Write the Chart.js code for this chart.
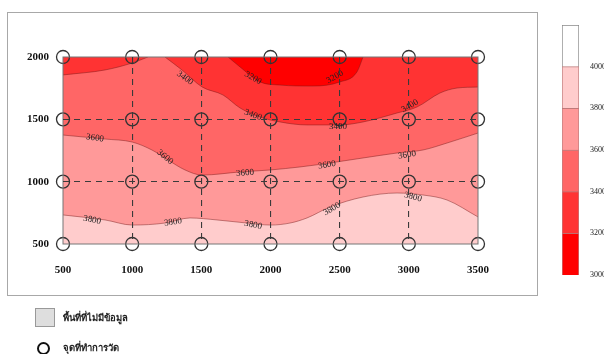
<!DOCTYPE html>
<html>
<head>
<meta charset="utf-8">
<script src="https://cdn.jsdelivr.net/npm/chart.js@4.4.1/dist/chart.umd.min.js"></script>
<style>
  body { margin:0; width:604px; height:354px; background:#fff; position:relative; overflow:hidden; font-family:"Liberation Serif", serif; }
  #frame { position:absolute; left:7px; top:12px; width:529px; height:282px; border:1.5px solid #a8a8a8; }
  #main { position:absolute; left:0; top:0; }
  #bar { position:absolute; left:540px; top:0; }
  .leg { position:absolute; left:63px; font-size:9.5px; font-weight:bold; color:#222; font-family:"Noto Sans", "Liberation Serif", serif; }
  #box { position:absolute; left:35px; top:308px; width:18px; height:17px; background:#dedede; border:1px solid #999; }
  #ring { position:absolute; left:37px; top:342px; width:9px; height:9px; border:2px solid #111; border-radius:50%; }
</style>
</head>
<body>
<div id="frame"></div>
<canvas id="main" width="604" height="354"></canvas>
<canvas id="bar" width="64" height="354"></canvas>
<div id="box"></div>
<div class="leg" style="top:310px">พื้นที่ที่ไม่มีข้อมูล</div>
<div id="ring"></div>
<div class="leg" style="top:340px">จุดที่ทำการวัด</div>
<script>
// measurement grid
var xTicks = [500, 1000, 1500, 2000, 2500, 3000, 3500];
var yTicks = [500, 1000, 1500, 2000];

// contour lines (x, y)
var line3800 = [[500,733],[804,693],[1000,652],[1237,668],[1418,709],[1613,693],[1830,668],[2000,652],[2141,668],[2264,709],[2430,797],[2669,877],[2915,909],[3102,893],[3276,853],[3500,717]];
var line3600 = [[500,1374],[804,1342],[1000,1318],[1143,1254],[1259,1174],[1382,1094],[1505,1053],[1780,1078],[2000,1094],[2213,1118],[2430,1150],[2669,1190],[2915,1230],[3102,1254],[3276,1310],[3500,1390]];
var line3400 = [[1237,2000],[1360,1896],[1505,1760],[1657,1695],[1780,1591],[1924,1519],[2069,1479],[2264,1455],[2502,1455],[2669,1479],[2915,1551],[3059,1599],[3225,1711],[3348,1751],[3500,1759]];
var line3400corner = [[500,1856],[804,1896],[1000,1952],[1114,2000]];
var line3200 = [[1693,2000],[1780,1920],[1924,1800],[2069,1775],[2307,1767],[2502,1800],[2625,1880],[2669,2000]];

// contour labels: value, x, y, angle
var contourLabels = [
  ['3400',1382,1831,35],['3200',1874,1831,30],['3200',2466,1840,-30],
  ['3400',1874,1535,20],['3400',2488,1438,0],['3400',3008,1607,-30],
  ['3600',731,1350,8],['3600',1237,1198,40],['3600',1816,1070,-5],['3600',2408,1134,-10],['3600',2987,1214,-10],
  ['3800',710,693,12],['3800',1295,676,-8],['3800',1874,652,12],['3800',2444,781,-30],['3800',3030,877,15]
];

// colour scale
var levels = [3000, 3200, 3400, 3600, 3800, 4000, 4200];
var levelColors = ['#ff0000', '#ff3333', '#ff6666', '#ff9999', '#ffcccc', '#ffffff'];

function pts(a){ return a.map(function(p){ return {x:p[0], y:p[1]}; }); }

var stations = [];
xTicks.forEach(function(x){ yTicks.forEach(function(y){ stations.push({x:x, y:y}); }); });

function contour(data, color){
  return {
    data: pts(data), showLine: true, fill: 'end', backgroundColor: color,
    borderColor: 'rgba(110,20,20,0.55)', borderWidth: 0.8, pointRadius: 0,
    cubicInterpolationMode: 'monotone'
  };
}

var bgPlugin = {
  id: 'bg',
  beforeDatasetsDraw: function(chart){
    var a = chart.chartArea, c = chart.ctx;
    c.save(); c.fillStyle = levelColors[4]; c.fillRect(a.left, a.top, a.width, a.height); c.restore();
  },
  afterDatasetsDraw: function(chart){
    var a = chart.chartArea, c = chart.ctx;
    var xs = chart.scales.x, ys = chart.scales.y;
    c.save();
    c.strokeStyle = '#777'; c.lineWidth = 1;
    c.strokeRect(a.left, a.top, a.width, a.height);
    c.fillStyle = '#222';
    c.font = '9px "Liberation Serif"';
    c.textAlign = 'center'; c.textBaseline = 'middle';
    contourLabels.forEach(function(l){
      c.save();
      c.translate(xs.getPixelForValue(l[1]), ys.getPixelForValue(l[2]));
      c.rotate(l[3] * Math.PI / 180);
      c.fillText(l[0], 0, 0);
      c.restore();
    });
    c.restore();
  }
};

function edgeClear(ctx){
  var v = ctx.tick ? ctx.tick.value : null;
  var s = ctx.scale;
  return (v === s.min || v === s.max) ? 'rgba(0,0,0,0)' : '#3a3a3a';
}

var tickFont = { family: 'Liberation Serif', size: 11, weight: 'bold' };
function plain(v){ return String(v); }

new Chart(document.getElementById('main'), {
  type: 'scatter',
  data: {
    datasets: [
      { data: stations, pointRadius: 6.5, pointBorderWidth: 1.3, pointBorderColor: '#333',
        pointBackgroundColor: 'rgba(0,0,0,0)', showLine: false, clip: false },
      contour(line3200, levelColors[0]),
      contour(line3400corner, levelColors[1]),
      contour(line3400, levelColors[1]),
      contour(line3600, levelColors[2]),
      contour(line3800, levelColors[3])
    ]
  },
  options: {
    responsive: false, animation: false,
    layout: { padding: { left: 10, top: 57, right: 126, bottom: 80 } },
    plugins: { legend: { display: false }, tooltip: { enabled: false } },
    scales: {
      x: {
        type: 'linear', min: 500, max: 3500,
        afterBuildTicks: function(s){ s.ticks = xTicks.map(function(v){ return {value:v}; }); },
        afterFit: function(s){ s.height = 30; },
        grid: { z: 1, drawTicks: false, color: edgeClear, lineWidth: 1.1 },
        border: { display: false, dash: [6, 5] },
        ticks: { padding: 20, color: '#111', font: tickFont, callback: plain }
      },
      y: {
        type: 'linear', min: 500, max: 2000,
        afterBuildTicks: function(s){ s.ticks = yTicks.map(function(v){ return {value:v}; }); },
        afterFit: function(s){ s.width = 53; },
        grid: { z: 1, drawTicks: false, color: edgeClear, lineWidth: 1.1 },
        border: { display: false, dash: [6, 5] },
        ticks: { padding: 14, color: '#111', font: tickFont, callback: plain }
      }
    }
  },
  plugins: [bgPlugin]
});

// colour bar
var barSets = [];
for (var i = 0; i < levelColors.length; i++) {
  barSets.push({ data: [levels[i + 1] - levels[i]], backgroundColor: levelColors[i],
    borderColor: i === levelColors.length - 1 ? '#888' : 'rgba(150,40,40,0.6)', borderWidth: 1,
    barPercentage: 1, categoryPercentage: 1 });
}
new Chart(document.getElementById('bar'), {
  type: 'bar',
  data: { labels: [''], datasets: barSets },
  options: {
    responsive: false, animation: false,
    layout: { padding: { left: 22, top: 25, right: 0, bottom: 79 } },
    plugins: { legend: { display: false }, tooltip: { enabled: false } },
    scales: {
      x: { stacked: true, display: false },
      y: {
        stacked: true, position: 'right', min: 0, max: 1200,
        afterBuildTicks: function(s){ s.ticks = levels.slice(0, 6).map(function(v){ return {value: v - 3000}; }); },
        afterFit: function(s){ s.width = 25; },
        grid: { display: false }, border: { display: false },
        ticks: { padding: 3, color: '#222', font: { family: 'Liberation Serif', size: 8 },
          callback: function(v){ return String(v + 3000); } }
      }
    }
  }
});
</script>
</body>
</html>
